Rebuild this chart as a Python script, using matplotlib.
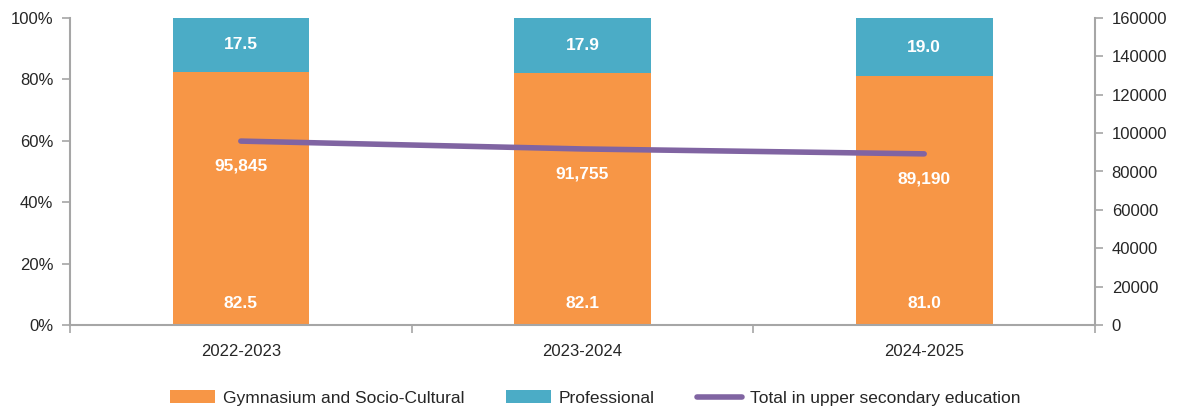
import matplotlib
matplotlib.use("Agg")
import matplotlib.pyplot as plt
from matplotlib.ticker import FixedLocator, FuncFormatter

plt.rcParams['font.family'] = ['Liberation Sans', 'DejaVu Sans']

years = ["2022-2023", "2023-2024", "2024-2025"]
gymnasium_pct = [82.5, 82.1, 81.0]
professional_pct = [17.5, 17.9, 19.0]
total_students = [95845, 91755, 89190]

orange = "#F79646"
teal = "#4BACC6"
purple = "#8064A2"
axis_grey = "#A6A6A6"
text_col = "#262626"

fig = plt.figure(figsize=(11.8, 4.11), dpi=100)
ax = fig.add_axes([70 / 1180, 1 - 325 / 411, (1095 - 70) / 1180, (325 - 18) / 411])

x = list(range(len(years)))
width = 0.4
ax.bar(x, gymnasium_pct, width, color=orange, label="Gymnasium and Socio-Cultural", zorder=2)
ax.bar(x, professional_pct, width, bottom=gymnasium_pct, color=teal, label="Professional", zorder=2)

for xi, g, p in zip(x, gymnasium_pct, professional_pct):
    ax.text(xi, 7, f"{g:.1f}", ha="center", va="center", color="white",
            fontsize=12.5, fontweight="bold", zorder=5)
    ax.text(xi, g + p / 2, f"{p:.1f}", ha="center", va="center", color="white",
            fontsize=12.5, fontweight="bold", zorder=5)

ax.set_xlim(-0.5, len(years) - 0.5)
ax.set_ylim(0, 100)
ax.yaxis.set_major_locator(FixedLocator([0, 20, 40, 60, 80, 100]))
ax.yaxis.set_major_formatter(FuncFormatter(lambda v, _: f"{v:.0f}%"))
ax.set_xticks(x)
ax.set_xticklabels(years)
ax.set_xticks([i - 0.5 for i in range(len(years) + 1)], minor=True)
ax.tick_params(axis="x", which="major", length=0, pad=14, labelsize=12, labelcolor=text_col)
ax.tick_params(axis="x", which="minor", length=6, width=1.2, color=axis_grey, direction="out")
ax.tick_params(axis="y", length=6, width=1.2, color=axis_grey, labelsize=12,
               labelcolor=text_col, pad=6)

for side in ["top", "right"]:
    ax.spines[side].set_visible(False)
for side in ["left", "bottom"]:
    ax.spines[side].set_color(axis_grey)
    ax.spines[side].set_linewidth(1.5)

ax2 = ax.twinx()
ax2.set_ylim(0, 160000)
ax2.yaxis.set_major_locator(FixedLocator(list(range(0, 160001, 20000))))
ax2.yaxis.set_major_formatter(FuncFormatter(lambda v, _: f"{v:.0f}"))
line, = ax2.plot(x, total_students, color=purple, linewidth=4,
                 solid_capstyle="round", label="Total in upper secondary education", zorder=4)
for xi, t in zip(x, total_students):
    ax2.annotate(f"{t:,}", (xi, t), xytext=(0, -18), textcoords="offset points",
                 ha="center", va="center", color="white", fontsize=12.5,
                 fontweight="bold", zorder=6)
ax2.tick_params(axis="y", length=6, width=1.2, color=axis_grey, labelsize=12,
                labelcolor=text_col, pad=6)
for side in ["top", "left", "bottom"]:
    ax2.spines[side].set_visible(False)
ax2.spines["right"].set_color(axis_grey)
ax2.spines["right"].set_linewidth(1.5)

handles = ax.get_legend_handles_labels()[0] + [line]
labels = ["Gymnasium and Socio-Cultural", "Professional", "Total in upper secondary education"]
fig.legend(handles, labels, loc="center", bbox_to_anchor=(595 / 1180, 1 - 398 / 411),
           ncol=3, frameon=False, fontsize=12.5, handlelength=2.6, handleheight=0.7,
           columnspacing=2.4, handletextpad=0.45, labelcolor=text_col)

fig.savefig("out.png", dpi=100)
